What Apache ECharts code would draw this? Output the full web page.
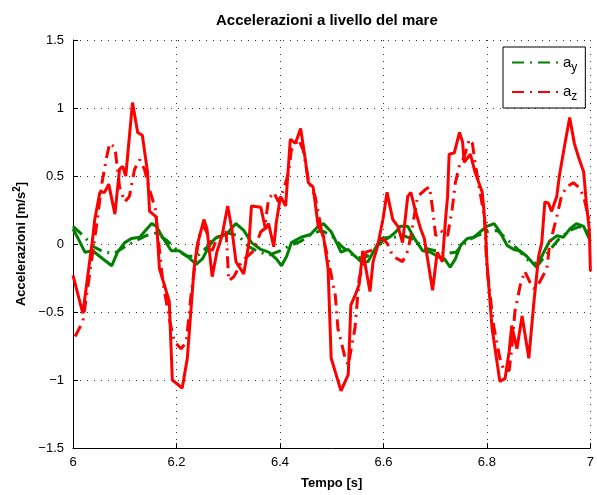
<!DOCTYPE html>
<html>
<head>
<meta charset="utf-8">
<script src="https://cdn.jsdelivr.net/npm/echarts@6/dist/echarts.min.js"></script>
<style>
html,body{margin:0;padding:0;background:#fff;}
#c{width:597px;height:495px;}
</style>
</head>
<body>
<div id="c"></div>
<script>
// Tick labels
const xTicks = ['6','6.2','6.4','6.6','6.8','7'];
const yTicks = ['\u22121.5','\u22121','\u22120.5','0','0.5','1','1.5'];

// a_z (solid, red)
const tAzSolid = [6.000,6.019,6.038,6.042,6.052,6.061,6.069,6.081,6.090,6.096,6.102,6.115,6.125,6.134,6.144,6.148,6.161,6.167,6.186,6.192,6.211,6.221,6.234,6.240,6.253,6.259,6.269,6.278,6.288,6.299,6.307,6.315,6.330,6.340,6.345,6.363,6.372,6.378,6.388,6.393,6.401,6.411,6.420,6.430,6.440,6.449,6.455,6.464,6.474,6.484,6.493,6.499,6.518,6.532,6.537,6.545,6.553,6.560,6.574,6.580,6.589,6.599,6.607,6.618,6.628,6.637,6.647,6.653,6.662,6.672,6.679,6.695,6.704,6.714,6.720,6.724,6.727,6.737,6.747,6.753,6.756,6.768,6.777,6.791,6.797,6.800,6.810,6.825,6.835,6.843,6.848,6.858,6.868,6.881,6.891,6.900,6.906,6.912,6.919,6.925,6.935,6.940,6.950,6.960,6.969,6.977,6.987,6.992,6.998,7.000];
const vAzSolid = [-0.23,-0.51,0.04,0.18,0.38,0.38,0.44,0.22,0.55,0.57,0.50,1.04,0.82,0.80,0.53,0.24,0.20,-0.18,-0.42,-1.00,-1.06,-0.84,-0.18,-0.01,0.18,0.11,-0.24,-0.06,0.06,0.28,0.11,-0.13,-0.22,0.01,0.28,0.27,0.11,0.15,-0.02,0.16,0.35,0.28,0.77,0.74,0.85,0.62,0.45,0.42,0.13,0.06,-0.18,-0.84,-1.08,-0.96,-0.45,-0.38,-0.30,-0.05,-0.35,-0.13,-0.01,0.18,0.38,0.18,0.13,0.01,0.35,0.38,0.24,0.11,0.04,-0.34,-0.06,-0.13,0.18,0.35,0.66,0.67,0.82,0.75,0.60,0.66,0.53,0.38,0.13,-0.13,-0.62,-1.01,-0.99,-0.79,-0.60,-0.77,-0.53,-0.84,-0.42,-0.09,0.01,0.31,0.30,0.24,0.35,0.50,0.72,0.93,0.74,0.64,0.53,0.31,0.10,-0.20];

// a_z (dash-dot, red)
const tAzDash = [6.004,6.019,6.033,6.046,6.056,6.065,6.071,6.081,6.090,6.100,6.109,6.119,6.129,6.138,6.148,6.159,6.173,6.186,6.196,6.209,6.219,6.228,6.238,6.244,6.253,6.263,6.269,6.278,6.296,6.301,6.311,6.326,6.349,6.363,6.370,6.378,6.388,6.397,6.407,6.417,6.422,6.436,6.445,6.455,6.468,6.480,6.493,6.507,6.512,6.526,6.532,6.545,6.553,6.566,6.583,6.599,6.608,6.618,6.637,6.647,6.653,6.666,6.681,6.689,6.695,6.701,6.710,6.724,6.733,6.739,6.747,6.756,6.766,6.772,6.777,6.785,6.795,6.800,6.813,6.825,6.833,6.843,6.848,6.854,6.864,6.873,6.883,6.891,6.902,6.916,6.921,6.935,6.944,6.954,6.967,6.977,6.987,6.996,7.000];
const vAzDash = [-0.68,-0.57,-0.20,0.15,0.45,0.64,0.74,0.71,0.42,0.31,0.35,0.55,0.62,0.55,0.40,0.26,-0.26,-0.55,-0.72,-0.77,-0.72,-0.38,-0.09,0.06,0.13,0.05,-0.05,0.04,0.09,-0.27,-0.24,-0.13,-0.05,0.09,0.11,0.33,0.38,0.31,0.40,0.53,0.69,0.77,0.69,0.47,0.35,0.11,-0.11,-0.38,-0.62,-0.84,-0.89,-0.62,-0.26,-0.06,-0.04,0.04,0.00,-0.09,-0.13,-0.05,0.06,0.35,0.40,0.42,0.26,0.06,0.10,0.06,0.26,0.45,0.58,0.64,0.77,0.74,0.60,0.42,0.20,-0.18,-0.60,-0.84,-0.93,-0.93,-0.77,-0.50,-0.31,-0.20,-0.28,-0.33,-0.28,-0.18,-0.01,0.20,0.35,0.42,0.45,0.42,0.35,0.20,0.17];

// a_y (solid, green)
const tAySolid = [6.000,6.010,6.023,6.038,6.058,6.075,6.086,6.100,6.113,6.129,6.138,6.152,6.161,6.173,6.190,6.205,6.221,6.238,6.250,6.267,6.278,6.296,6.315,6.330,6.345,6.363,6.378,6.393,6.403,6.413,6.422,6.441,6.459,6.474,6.484,6.499,6.512,6.518,6.532,6.545,6.557,6.570,6.583,6.595,6.612,6.624,6.633,6.647,6.660,6.676,6.691,6.704,6.718,6.729,6.739,6.749,6.762,6.775,6.787,6.800,6.814,6.825,6.839,6.852,6.864,6.877,6.891,6.896,6.910,6.921,6.935,6.948,6.960,6.973,6.987,7.000];
const vAySolid = [0.11,0.04,-0.06,-0.05,-0.11,-0.16,-0.06,0.01,0.04,0.05,0.09,0.15,0.13,0.05,-0.05,-0.05,-0.09,-0.15,-0.11,0.01,0.05,0.07,0.15,0.10,0.01,-0.04,-0.06,-0.11,-0.16,-0.09,0.01,0.05,0.07,0.13,0.15,0.09,-0.01,-0.06,-0.04,-0.09,-0.13,-0.13,-0.04,0.04,0.05,0.09,0.13,0.13,0.04,-0.05,-0.06,-0.09,-0.11,-0.17,-0.11,-0.01,0.04,0.05,0.09,0.13,0.15,0.09,-0.01,-0.04,-0.05,-0.09,-0.15,-0.17,-0.06,0.02,0.06,0.05,0.11,0.15,0.13,0.02];

// a_y (dash-dot, green)
const tAyDash = [6.00,6.02,6.04,6.06,6.08,6.10,6.12,6.14,6.16,6.18,6.20,6.22,6.24,6.26,6.28,6.30,6.32,6.34,6.36,6.38,6.40,6.42,6.44,6.46,6.48,6.50,6.52,6.54,6.56,6.58,6.60,6.62,6.64,6.66,6.68,6.70,6.72,6.74,6.76,6.78,6.80,6.82,6.84,6.86,6.88,6.90,6.92,6.94,6.96,6.98,7.00];
const vAyDash = [0.13,0.06,-0.02,-0.06,-0.07,-0.02,0.02,0.06,0.08,0.03,-0.04,-0.09,-0.09,-0.02,0.05,0.08,0.06,-0.02,-0.06,-0.08,-0.05,-0.01,0.02,0.07,0.10,0.06,-0.02,-0.08,-0.11,-0.06,0.03,0.05,0.06,0.03,-0.03,-0.05,-0.07,-0.06,0.02,0.06,0.09,0.10,0.03,-0.04,-0.12,-0.15,-0.05,0.04,0.10,0.13,0.08];

const zip = (t, v) => t.map((x, i) => [x, v[i]]);
const FONT = 'Liberation Sans, Arial, Helvetica, sans-serif';
const GREEN = '#008000', RED = '#ff0000';
const DASHDOT = [12, 6, 2, 6];

const chart = echarts.init(document.getElementById('c'), null, {renderer: 'canvas'});
chart.setOption({
  animation: false,
  backgroundColor: '#fff',
  title: {
    text: 'Accelerazioni a livello del mare',
    left: 211, top: 8,
    textStyle: {fontFamily: FONT, fontSize: 15, fontWeight: 'bold', color: '#000'}
  },
  grid: {left: 73, right: 3, top: 40, bottom: 44, containLabel: false},
  legend: {
    data: ['a_y', 'a_z'],
    orient: 'vertical',
    left: 503, top: 47,
    padding: [8, 8, 5, 8],
    itemGap: 11,
    itemWidth: 46, itemHeight: 14,
    borderColor: '#000', borderWidth: 1, backgroundColor: '#fff',
    itemStyle: {opacity: 0},
    formatter: n => n === 'a_y' ? '{m|a}{s|y}' : '{m|a}{s|z}',
    textStyle: {
      fontFamily: FONT, color: '#000',
      rich: {
        m: {fontSize: 15, fontFamily: FONT, color: '#000'},
        s: {fontSize: 12, fontFamily: FONT, color: '#000', padding: [10, 0, 0, 0]}
      }
    }
  },
  xAxis: {
    type: 'value', min: 6, max: 7, interval: 0.2,
    name: 'Tempo [s]', nameLocation: 'middle', nameGap: 29,
    nameTextStyle: {fontFamily: FONT, fontSize: 13, fontWeight: 'bold', color: '#000'},
    axisLine: {show: true, onZero: false, lineStyle: {color: '#000', width: 1}},
    axisTick: {show: true, inside: true, length: 5, lineStyle: {color: '#000'}},
    axisLabel: {fontFamily: FONT, fontSize: 13, color: '#000', margin: 8,
      formatter: v => xTicks[Math.round((v - 6) / 0.2)]},
    splitLine: {show: true, lineStyle: {color: '#333', type: [1, 6], width: 1}}
  },
  yAxis: {
    type: 'value', min: -1.5, max: 1.5, interval: 0.5,
    name: '{b|Accelerazioni [m/s}{sup|2}{b|]}', nameLocation: 'middle', nameGap: 42,
    nameTextStyle: {
      fontFamily: FONT, fontSize: 13, fontWeight: 'bold', color: '#000',
      rich: {
        b: {fontFamily: FONT, fontSize: 13, fontWeight: 'bold', color: '#000'},
        sup: {fontFamily: FONT, fontSize: 10, fontWeight: 'bold', color: '#000', padding: [0, 0, 8, 0]}
      }
    },
    axisLine: {show: true, onZero: false, lineStyle: {color: '#000', width: 1}},
    axisTick: {show: true, inside: true, length: 5, lineStyle: {color: '#000'}},
    axisLabel: {fontFamily: FONT, fontSize: 13, color: '#000', margin: 9,
      formatter: v => yTicks[Math.round((v + 1.5) / 0.5)]},
    splitLine: {show: true, lineStyle: {color: '#333', type: [1, 6], width: 1}}
  },
  series: [
    {name: 'a_y', type: 'line', data: zip(tAyDash, vAyDash), showSymbol: false, symbol: 'none',
     lineStyle: {color: GREEN, width: 3, type: DASHDOT}, itemStyle: {color: GREEN}, z: 2},
    {name: 'ay_meas', type: 'line', data: zip(tAySolid, vAySolid), showSymbol: false, symbol: 'none',
     lineStyle: {color: GREEN, width: 3, type: 'solid'}, itemStyle: {color: GREEN}, z: 3},
    {name: 'a_z', type: 'line', data: zip(tAzDash, vAzDash), showSymbol: false, symbol: 'none',
     lineStyle: {color: RED, width: 3, type: DASHDOT}, itemStyle: {color: RED}, z: 4},
    {name: 'az_meas', type: 'line', data: zip(tAzSolid, vAzSolid), showSymbol: false, symbol: 'none',
     lineStyle: {color: RED, width: 3, type: 'solid'}, itemStyle: {color: RED}, z: 5}
  ]
});
</script>
</body>
</html>
